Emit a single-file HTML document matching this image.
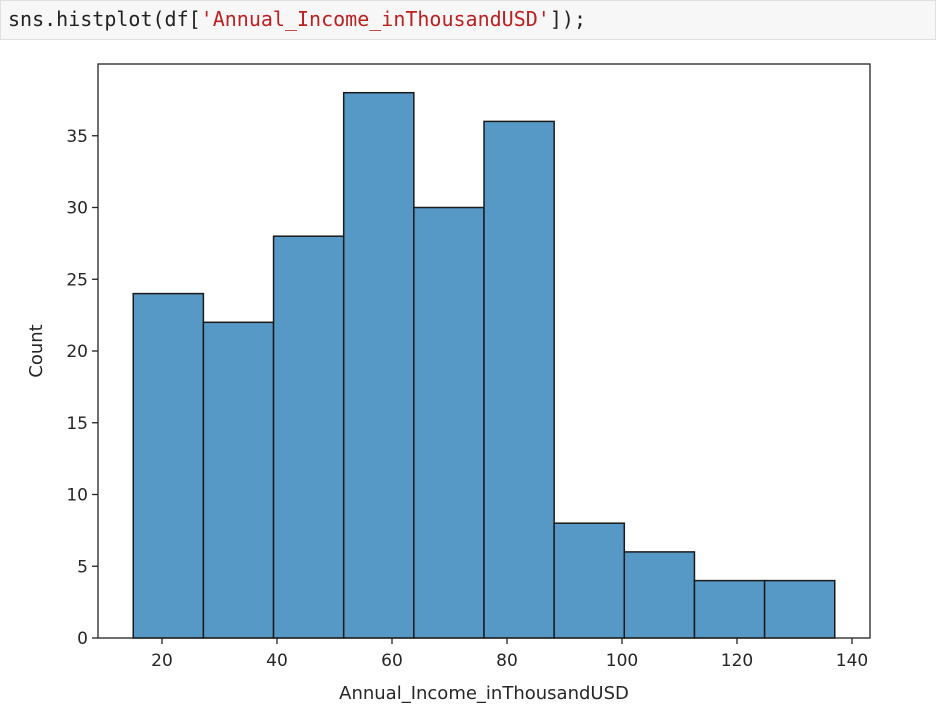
<!DOCTYPE html>
<html><head><meta charset="utf-8"><style>
body{margin:0;width:936px;height:710px;background:#fff;overflow:hidden;font-family:"DejaVu Sans","Liberation Sans",sans-serif}
#code{position:absolute;left:0;top:0;width:936px;height:40px;background:#f7f7f7;border:1px solid #e0e0e0;box-sizing:border-box;font-family:"DejaVu Sans Mono","Liberation Mono",monospace;font-size:20px;line-height:37px;padding-left:7px;color:#222}
.s{color:#ba2121}
svg{position:absolute;left:0;top:0}
</style></head><body>
<div id="code">sns.histplot(df[<span class="s">'Annual_Income_inThousandUSD'</span>]);</div>
<svg id="chart" width="936" height="710"></svg>
<script>
const binEdges=[15,27.2,39.4,51.6,63.8,76,88.2,100.4,112.6,124.8,137];
const counts=[24,22,28,38,30,36,8,6,4,4];
const xTicks=[20,40,60,80,100,120,140];
const yTicks=[0,5,10,15,20,25,30,35];
const L=98,R=870,T=64,B=638;
const x0=8.87,x1=143.13,y0=0,y1=40;
const sx=v=>L+(v-x0)/(x1-x0)*(R-L);
const sy=v=>B-(v-y0)/(y1-y0)*(B-T);
const svg=document.getElementById('chart');
const NS='http://www.w3.org/2000/svg';
function mk(t,a){const e=document.createElementNS(NS,t);for(const k in a)e.setAttribute(k,a[k]);svg.appendChild(e);return e;}
counts.forEach((c,i)=>{
  const r=mk('rect',{x:sx(binEdges[i]),y:sy(c),width:sx(binEdges[i+1])-sx(binEdges[i]),height:sy(0)-sy(c),fill:'#5799c6',stroke:'#1a1a1a','stroke-width':1.5});
  
  
});
const fr=mk('rect',{x:L,y:T,width:R-L,height:B-T,fill:'none',stroke:'#222','stroke-width':1.3});


xTicks.forEach(v=>{
  const X=sx(v);
  mk('line',{x1:X,x2:X,y1:B,y2:B+6,stroke:'#222','stroke-width':1.3});
  const t=mk('text',{x:X,y:B+28,'text-anchor':'middle','font-size':17,fill:'#262626'});
  t.textContent=v;
  
  
});
yTicks.forEach(v=>{
  const Y=sy(v);
  mk('line',{x1:L-6,x2:L,y1:Y,y2:Y,stroke:'#222','stroke-width':1.3});
  const t=mk('text',{x:L-10,y:Y+6,'text-anchor':'end','font-size':17,fill:'#262626'});
  t.textContent=v;
  
  
});
const xt=mk('text',{x:(L+R)/2,y:699,'text-anchor':'middle','font-size':18,fill:'#262626'});
xt.textContent='Annual_Income_inThousandUSD';


const yt=mk('text',{x:42,y:(T+B)/2,'text-anchor':'middle','font-size':18,fill:'#262626',transform:'rotate(-90 42 '+((T+B)/2)+')'});
yt.textContent='Count';


</script>
</body></html>
